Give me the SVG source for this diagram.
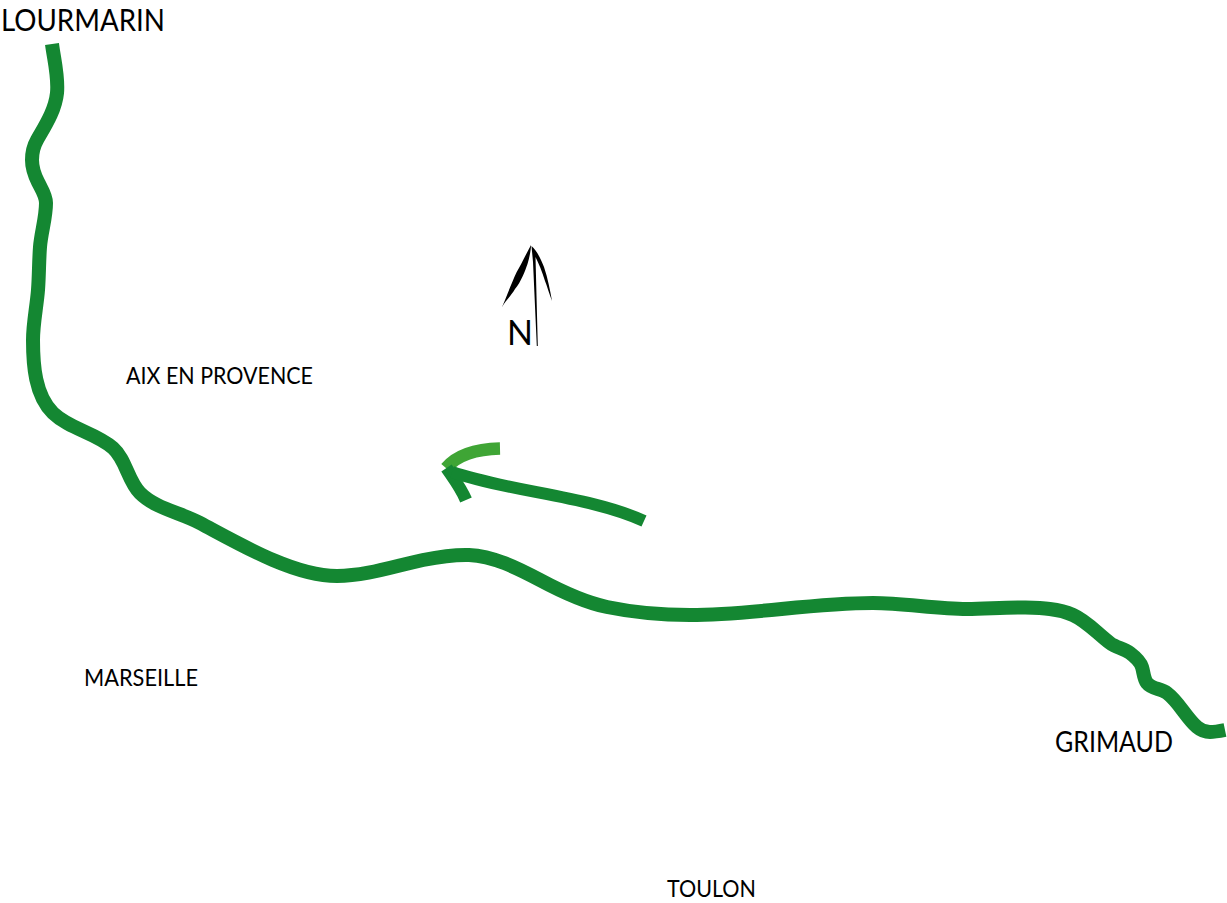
<svg xmlns="http://www.w3.org/2000/svg" width="1227" height="903" viewBox="0 0 1227 903">
<style>
.r{fill:none;stroke:#148732;stroke-width:14}
.l{fill:#000;font-family:Lato,"Open Sans","Liberation Sans",sans-serif}
.s{font-size:23px}
</style>
<rect width="1227" height="903" fill="#fff"/>
<g id="connectors">
<path id="route" class="r" d="M52 44C54.100 60.300 58.600 76.700 57 93C55.300 110 45.500 125.200 37 140C33.600 146 32 153.100 32 160C32 167.600 34.600 175.200 38 182C41.400 188.800 46 195.500 46 203C46 217.800 41.200 232.200 40 247C38.900 261.300 39.100 275.700 38 290C36.700 306.700 33 323.300 33 340C33 365 35 395.500 53 413C69.600 429.100 95.700 432.800 113 448C126.100 459.600 127.700 480.700 140 493C155.700 508.700 180.300 512.500 200 523C223.800 535.700 248.200 549.500 273 560C293.200 568.600 315 576 337 576C366 576 394.900 566 423 560C438 557 453 554.500 469 555C493 556 517.300 567.900 540 580C561.100 591.300 583.700 602.200 607 607C634 612.600 662.200 615 690 615C751 615 812 603 873 603C904 603 936 609 967 609C986 609 1004 607 1023 607.500C1040 608 1057.700 608.200 1073 615C1087 621.200 1097.600 633.700 1110 643C1116 647.500 1124 648.500 1130 653C1134.900 656.700 1140.200 661.200 1142 667C1143.700 672.300 1143.600 678.500 1147 683C1151.500 689 1161 688.500 1167 693C1179 702 1185.800 717.300 1197 727C1200.500 730 1205.400 732 1210 732C1215 732 1220 731 1225 730"/>
<path id="arrow-barb-upper" fill="none" stroke="#3fa535" stroke-width="12.500" d="M500 448.500C478 449 458 454 446 468"/>
<path id="arrow-barb-lower" fill="none" stroke="#148732" stroke-width="12.500" d="M466 500C461 488 454 479 446.500 468"/>
<path id="arrow-shaft" fill="none" stroke="#148732" stroke-width="12" d="M644 521C590 496 510 492 452 472"/>
</g>
<g id="north-arrow">
<path fill="#000" d="M531 245C525 256 521 265 516.700 272C512 282 506 298 502 307C506 300 511 296 515 289C521 282 525 271 527.500 264C529.500 257 531 250 531 245Z"/>
<path fill="#000" d="M531.500 246C538 252 541 260 544 267C548 279 550 290 552 301C549 293 547 286 545 281C542 271 538.500 263 535.500 257L537.800 346L536.800 346L533 262Z"/>
<text class="l" x="507" y="345" font-size="34">N</text>
</g>
<g id="lourmarin"><text class="l" font-size="31" x="1" y="30.500" textLength="164" lengthAdjust="spacingAndGlyphs">LOURMARIN</text></g>
<g id="aix"><text class="l s" x="126" y="384" textLength="187" lengthAdjust="spacingAndGlyphs">AIX EN PROVENCE</text></g>
<g id="marseille"><text class="l s" x="84" y="686" textLength="114" lengthAdjust="spacingAndGlyphs">MARSEILLE</text></g>
<g id="grimaud"><text class="l" font-size="29" x="1055" y="752" textLength="118" lengthAdjust="spacingAndGlyphs">GRIMAUD</text></g>
<g id="toulon"><text class="l s" x="667" y="897" textLength="89" lengthAdjust="spacingAndGlyphs">TOULON</text></g>
</svg>
